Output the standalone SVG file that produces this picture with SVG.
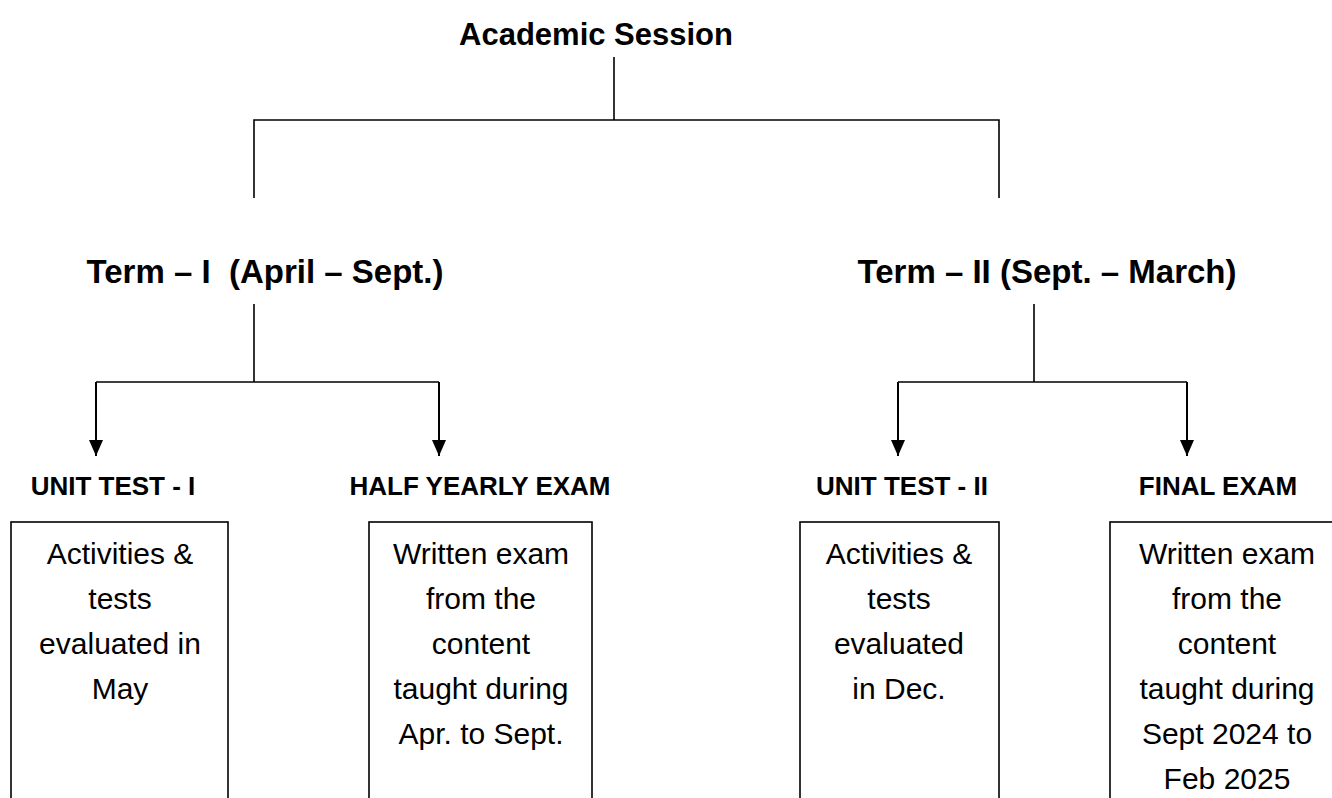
<svg xmlns="http://www.w3.org/2000/svg" width="1332" height="798" viewBox="0 0 1332 798">
<style>
.bg{fill:#fff}
.ln{fill:none;stroke:#000;stroke-width:1.6}
.ar{fill:none;stroke:#000;stroke-width:2}
.box{fill:#fff;stroke:#000;stroke-width:1.6}
.title{font-family:"Liberation Sans",Arial,sans-serif;font-weight:bold;font-size:31px;fill:#000;text-anchor:middle}
.term{font-family:"Liberation Sans",Arial,sans-serif;font-weight:bold;font-size:33px;fill:#000;text-anchor:middle}
.head{font-family:"Liberation Sans",Arial,sans-serif;font-weight:bold;font-size:26px;fill:#000;text-anchor:middle}
.body{font-family:"Liberation Sans",Arial,sans-serif;font-size:30px;fill:#000;text-anchor:middle}
</style>
<defs>
<marker id="arr" viewBox="0 0 16 14" refX="16" refY="7" markerWidth="16" markerHeight="14" markerUnits="userSpaceOnUse" orient="auto">
<path d="M0,0 L16,7 L0,14 Z" fill="#000"/>
</marker>
</defs>
<rect class="bg" x="0" y="0" width="1332" height="798"/>
<g id="connectors">
<path class="ln" d="M614,57 V120 M254,198 V120 H999 V198"/>
<path class="ln" d="M254,304 V382 M96,382 H439"/>
<path class="ar" d="M96,382 V456" marker-end="url(#arr)"/>
<path class="ar" d="M439,382 V456" marker-end="url(#arr)"/>
<path class="ln" d="M1034,304 V382 M898,382 H1187"/>
<path class="ar" d="M898,382 V456" marker-end="url(#arr)"/>
<path class="ar" d="M1187,382 V456" marker-end="url(#arr)"/>
</g>
<g id="academic-session"><text class="title" x="596" y="45">Academic Session</text></g>
<g id="term1"><text class="term" x="265" y="283" xml:space="preserve">Term – I  (April – Sept.)</text></g>
<g id="term2"><text class="term" x="1047" y="283">Term – II (Sept. – March)</text></g>
<g id="unit-test-1">
<text class="head" x="113" y="495">UNIT TEST - I</text>
<rect class="box" x="11" y="522" width="217" height="300"/>
<text class="body"><tspan x="120" y="564">Activities &amp;</tspan><tspan x="120" y="609">tests</tspan><tspan x="120" y="654">evaluated in</tspan><tspan x="120" y="699">May</tspan></text>
</g>
<g id="half-yearly">
<text class="head" x="480" y="495">HALF YEARLY EXAM</text>
<rect class="box" x="369" y="522" width="223" height="300"/>
<text class="body"><tspan x="481" y="564">Written exam</tspan><tspan x="481" y="609">from the</tspan><tspan x="481" y="654">content</tspan><tspan x="481" y="699">taught during</tspan><tspan x="481" y="744">Apr. to Sept.</tspan></text>
</g>
<g id="unit-test-2">
<text class="head" x="902" y="495">UNIT TEST - II</text>
<rect class="box" x="800" y="522" width="199" height="300"/>
<text class="body"><tspan x="899" y="564">Activities &amp;</tspan><tspan x="899" y="609">tests</tspan><tspan x="899" y="654">evaluated</tspan><tspan x="899" y="699">in Dec.</tspan></text>
</g>
<g id="final-exam">
<text class="head" x="1218" y="495">FINAL EXAM</text>
<rect class="box" x="1110" y="522" width="240" height="300"/>
<text class="body"><tspan x="1227" y="564">Written exam</tspan><tspan x="1227" y="609">from the</tspan><tspan x="1227" y="654">content</tspan><tspan x="1227" y="699">taught during</tspan><tspan x="1227" y="744">Sept 2024 to</tspan><tspan x="1227" y="789">Feb 2025</tspan></text>
</g>
</svg>
